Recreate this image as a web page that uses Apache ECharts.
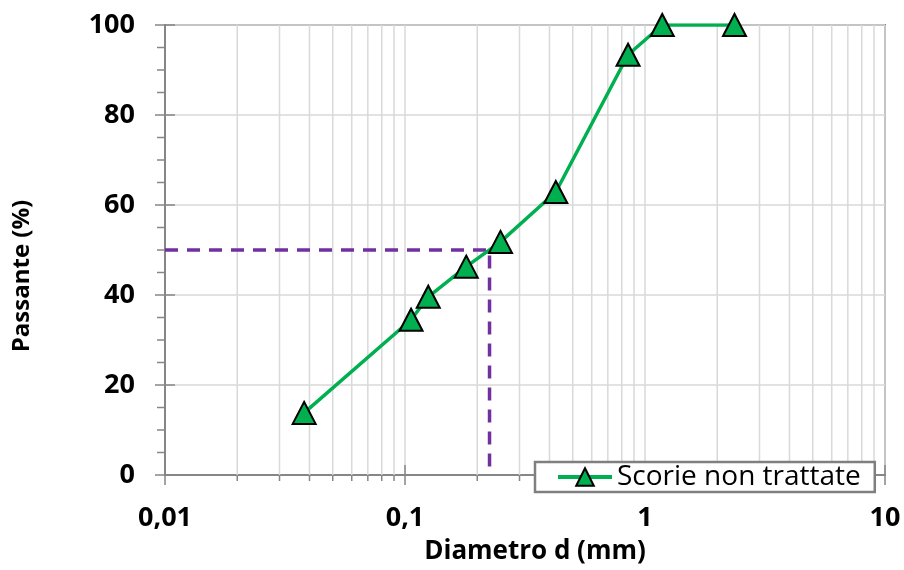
<!DOCTYPE html>
<html>
<head>
<meta charset="utf-8">
<script src="https://cdn.jsdelivr.net/npm/echarts@6/dist/echarts.min.js"></script>
<style>
  html, body { margin: 0; padding: 0; background: #ffffff; }
  #chart { width: 904px; height: 570px; }
</style>
</head>
<body>
<div id="chart"></div>
<script>
// Sieve sizes (mm) and cumulative percent passing
const diameters = [0.038, 0.106, 0.125, 0.18, 0.25, 0.425, 0.85, 1.18, 2.36];
const passing   = [13.8, 34.5, 39.6, 46.3, 51.8, 62.9, 93.4, 100, 100];

// D50 construction lines
const d50 = 0.225;
const d50Level = 50;

// Axis ranges and tick labels
const xMin = 0.01, xMax = 10;
const xTickLabels = ['0,01', '0,1', '1', '10'];
const yMin = 0, yMax = 100, yStep = 20;

// Intermediate log positions (2..9 in each decade)
const minorX = [];
for (let e = -2; e <= 0; e++) {
  for (let m = 2; m <= 9; m++) minorX.push(+(m * Math.pow(10, e)).toPrecision(3));
}
const majorX = [0.01, 0.1, 1, 10];
const minorY = [];
for (let v = 5; v < 100; v += 5) if (v % 20 !== 0) minorY.push(v);
const majorY = [0, 20, 40, 60, 80, 100];

const FONT = 'Open Sans';
const AXIS_COLOR = '#868686';
const GRID_COLOR = '#d9d9d9';

const series = [
  {
    // vertical grid at intermediate log positions + small ticks under the axis
    type: 'custom',
    silent: true,
    z: 1,
    clip: false,
    data: minorX.map(v => [v, 0]),
    renderItem: function (params, api) {
      const x = api.value(0);
      const top = api.coord([x, yMax]);
      const bot = api.coord([x, yMin]);
      return {
        type: 'group',
        children: [
          { type: 'line', shape: { x1: bot[0], y1: bot[1], x2: top[0], y2: top[1] },
            style: { stroke: GRID_COLOR, lineWidth: 1.5 } },
          { type: 'line', shape: { x1: bot[0], y1: bot[1], x2: bot[0], y2: bot[1] + 6 },
            style: { stroke: AXIS_COLOR, lineWidth: 1.5 } }
        ]
      };
    }
  },
  {
    // major x ticks crossing the axis line
    type: 'custom',
    silent: true,
    z: 3,
    clip: false,
    data: majorX.map(v => [v, 0]),
    renderItem: function (params, api) {
      const p = api.coord([api.value(0), yMin]);
      return { type: 'line', shape: { x1: p[0], y1: p[1] - 10, x2: p[0], y2: p[1] + 10 },
               style: { stroke: AXIS_COLOR, lineWidth: 1.5 } };
    }
  },
  {
    // y ticks: major ones cross the axis, minor ones sit outside
    type: 'custom',
    silent: true,
    z: 3,
    clip: false,
    data: majorY.map(v => [xMin, v, 1]).concat(minorY.map(v => [xMin, v, 0])),
    renderItem: function (params, api) {
      const p = api.coord([xMin, api.value(1)]);
      const major = api.value(2) === 1;
      return { type: 'line',
               shape: { x1: p[0] - (major ? 10 : 8), y1: p[1], x2: p[0] + (major ? 10 : 0), y2: p[1] },
               style: { stroke: AXIS_COLOR, lineWidth: 1.5 } };
    }
  },
  {
    name: 'D50',
    type: 'line',
    z: 4,
    symbol: 'none',
    silent: true,
    data: [[xMin, d50Level], [d50, d50Level], [d50, yMin]],
    lineStyle: { color: '#7030a0', width: 3.5, type: [13, 9] }
  },
  {
    name: 'Scorie non trattate',
    type: 'line',
    z: 5,
    data: diameters.map((d, i) => [d, passing[i]]),
    symbol: 'triangle',
    symbolSize: [23, 22],
    lineStyle: { color: '#00b050', width: 3.5 },
    itemStyle: { color: '#00b050', borderColor: '#000000', borderWidth: 2 }
  }
];

const chart = echarts.init(document.getElementById('chart'), null, { renderer: 'canvas' });
chart.setOption({
  animation: false,
  backgroundColor: '#ffffff',
  grid: {
    left: 165, right: 19, top: 25, bottom: 95,
    outerBoundsMode: 'none',
    containLabel: false,
    show: true, borderColor: AXIS_COLOR, borderWidth: 2, backgroundColor: 'transparent'
  },
  legend: {
    data: ['Scorie non trattate'],
    left: 535, top: 462,
    backgroundColor: '#ffffff',
    borderColor: '#7f7f7f',
    borderWidth: 2.5,
    borderRadius: 0,
    padding: [1, 14, 1, 21],
    itemWidth: 54,
    itemHeight: 22,
    itemGap: 6,
    lineStyle: { width: 4, color: '#00b050' },
    textStyle: { fontFamily: FONT, fontSize: 28, color: '#000000' }
  },
  xAxis: {
    type: 'log',
    logBase: 10,
    min: xMin, max: xMax,
    name: 'Diametro d (mm)',
    nameLocation: 'middle',
    nameGap: 64,
    nameTextStyle: { fontFamily: FONT, fontSize: 26, fontWeight: 'bold', color: '#000000',
                     padding: [0, 0, 0, 20] },
    axisLine: { show: true, onZero: false, lineStyle: { color: AXIS_COLOR, width: 2 } },
    axisTick: { show: false },
    axisLabel: {
      margin: 30,
      fontFamily: FONT, fontSize: 27, fontWeight: 'bold', color: '#000000',
      formatter: function (v) { return xTickLabels[Math.round(Math.log10(v)) + 2]; }
    },
    splitLine: { show: true, lineStyle: { color: GRID_COLOR, width: 1.5 } }
  },
  yAxis: {
    type: 'value',
    min: yMin, max: yMax, interval: yStep,
    name: 'Passante (%)',
    nameLocation: 'middle',
    nameGap: 131,
    nameTextStyle: { fontFamily: FONT, fontSize: 24, fontWeight: 'bold', color: '#000000',
                     padding: [0, 52, 0, 0] },
    axisLine: { show: true, lineStyle: { color: AXIS_COLOR, width: 2 } },
    axisTick: { show: false },
    axisLabel: { margin: 30, fontFamily: FONT, fontSize: 27, fontWeight: 'bold', color: '#000000' },
    splitLine: { show: true, lineStyle: { color: GRID_COLOR, width: 1.5 } }
  },
  series: series
});
</script>
</body>
</html>
